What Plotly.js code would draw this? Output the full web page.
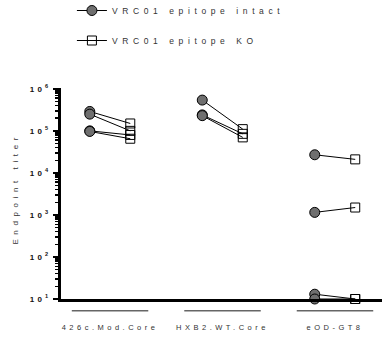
<!DOCTYPE html>
<html>
<head>
<meta charset="utf-8">
<script src="https://cdn.plot.ly/plotly-3.0.1.min.js"></script>
<style>
  html, body { margin: 0; padding: 0; background: #fff; }
  #chart { width: 382px; height: 339px; }
</style>
</head>
<body>
<div id="chart"></div>
<script>
// ---- data ----
const groups = ['426c.Mod.Core', 'HXB2.WT.Core', 'eOD-GT8'];
const intact426 = [2.9e5, 2.5e5, 1.0e5, 0.97e5];
const ko426     = [1.5e5, 1.0e5, 8.0e4, 6.5e4];
const intactHXB2 = [5.4e5, 2.4e5, 2.3e5];
const koHXB2     = [1.1e5, 8.5e4, 7.0e4];
const intactEOD = [2.7e4, 1.15e3, 13, 10];
const koEOD     = [2.1e4, 1.5e3, 10, 10];
const seriesNames = ['VRC01 epitope intact', 'VRC01 epitope KO'];
const yTitle = 'Endpoint titer';
const yTickVals = [10, 100, 1000, 10000, 100000, 1000000];
const yTickText = ['10<sup>1</sup>', '10<sup>2</sup>', '10<sup>3</sup>', '10<sup>4</sup>', '10<sup>5</sup>', '10<sup>6</sup>'];

const intactAll = [intact426, intactHXB2, intactEOD];
const koAll = [ko426, koHXB2, koEOD];
const off = 0.18;

const lx = [], ly = [], cx = [], cy = [], sx = [], sy = [];
intactAll.forEach((arr, g) => {
  arr.forEach((v, i) => {
    const k = koAll[g][i];
    lx.push(g - off, g + off, null);
    ly.push(v, k, null);
    cx.push(g - off); cy.push(v);
    sx.push(g + off); sy.push(k);
  });
});

const traces = [
  { x: lx, y: ly, mode: 'lines', line: { color: '#000', width: 1 }, showlegend: false, hoverinfo: 'skip', cliponaxis: false },
  { x: sx, y: sy, mode: 'markers', marker: { symbol: 'square-open', size: 9, color: '#000', line: { width: 1 } }, showlegend: false, cliponaxis: false },
  { x: cx, y: cy, mode: 'markers', marker: { symbol: 'circle', size: 10, color: '#6f6f6f', line: { color: '#000', width: 1 } }, showlegend: false, cliponaxis: false },
  { x: [null], y: [null], name: seriesNames[0], legendgroup: 'a', mode: 'lines+markers', line: { color: '#000', width: 1 },
    marker: { symbol: 'circle', size: 10, color: '#6f6f6f', line: { color: '#000', width: 1 } } },
  { x: [null], y: [null], name: seriesNames[1], legendgroup: 'b', mode: 'lines+markers', line: { color: '#000', width: 1 },
    marker: { symbol: 'square-open', size: 9, color: '#000', line: { width: 1 } } }
];

const shapes = groups.map((g, i) => ({
  type: 'line', xref: 'x', yref: 'paper', x0: i - 0.34, x1: i + 0.34, y0: -0.056, y1: -0.056,
  line: { color: '#666', width: 1.5 }
}));

const layout = {
  width: 382, height: 339,
  margin: { l: 61, r: 0, t: 84, b: 40 },
  paper_bgcolor: '#fff', plot_bgcolor: '#fff',
  font: { family: 'Liberation Sans, Arial, sans-serif', color: '#222' },
  showlegend: true,
  legend: { x: 0.034, y: 1.42, xanchor: 'left', yanchor: 'top', traceorder: 'grouped', tracegroupgap: 11,
            font: { size: 8.5, color: '#333' }, bgcolor: 'rgba(0,0,0,0)' },
  xaxis: {
    range: [-0.436, 2.418], showgrid: false, zeroline: false,
    showline: true, linecolor: '#000', linewidth: 3,
    tickvals: [0, 1, 2], ticktext: groups,
    ticks: 'outside', ticklen: 19, tickcolor: 'rgba(0,0,0,0)',
    tickfont: { size: 7.5, color: '#333' }
  },
  yaxis: {
    type: 'log', range: [1, 6.02], showgrid: false, zeroline: false,
    showline: true, linecolor: '#000', linewidth: 3,
    tickvals: yTickVals, ticktext: yTickText,
    ticks: 'outside', ticklen: 5, tickwidth: 2.5, tickcolor: '#000',
    tickfont: { size: 8, color: '#111', weight: 'bold' },
    minor: { ticks: 'outside', ticklen: 3, tickwidth: 1.5, tickcolor: '#000', dtick: 'D1' }
  },
  annotations: [{
    text: yTitle, xref: 'paper', yref: 'paper', x: -0.143, y: 0.52, xanchor: 'center', yanchor: 'middle',
    textangle: -90, showarrow: false, font: { size: 8, color: '#333' }
  }],
  shapes: shapes
};

function spaceText() {
  const set = (sel, v) => document.querySelectorAll(sel).forEach(el => {
    el.style.setProperty('letter-spacing', v, 'important');
    el.querySelectorAll('tspan').forEach(t => t.style.setProperty('letter-spacing', v, 'important'));
  });
  set('.legendtext', '4.6px');
  set('.ytick text', '3.2px');
  set('.xtick text', '3.5px');
  set('.annotation-text', '4.6px');
  document.querySelectorAll('.legend [clip-path], .legend, .annotation [clip-path]').forEach(el => el.removeAttribute('clip-path'));
  const leg = document.querySelector('.legend');
  if (leg) {
    const t = leg.getAttribute('transform') || '';
    leg.setAttribute('transform', t + ' translate(0,-4)');
  }
}

Plotly.newPlot('chart', traces, layout, { displayModeBar: false, staticPlot: true }).then(spaceText);
</script>
</body>
</html>
